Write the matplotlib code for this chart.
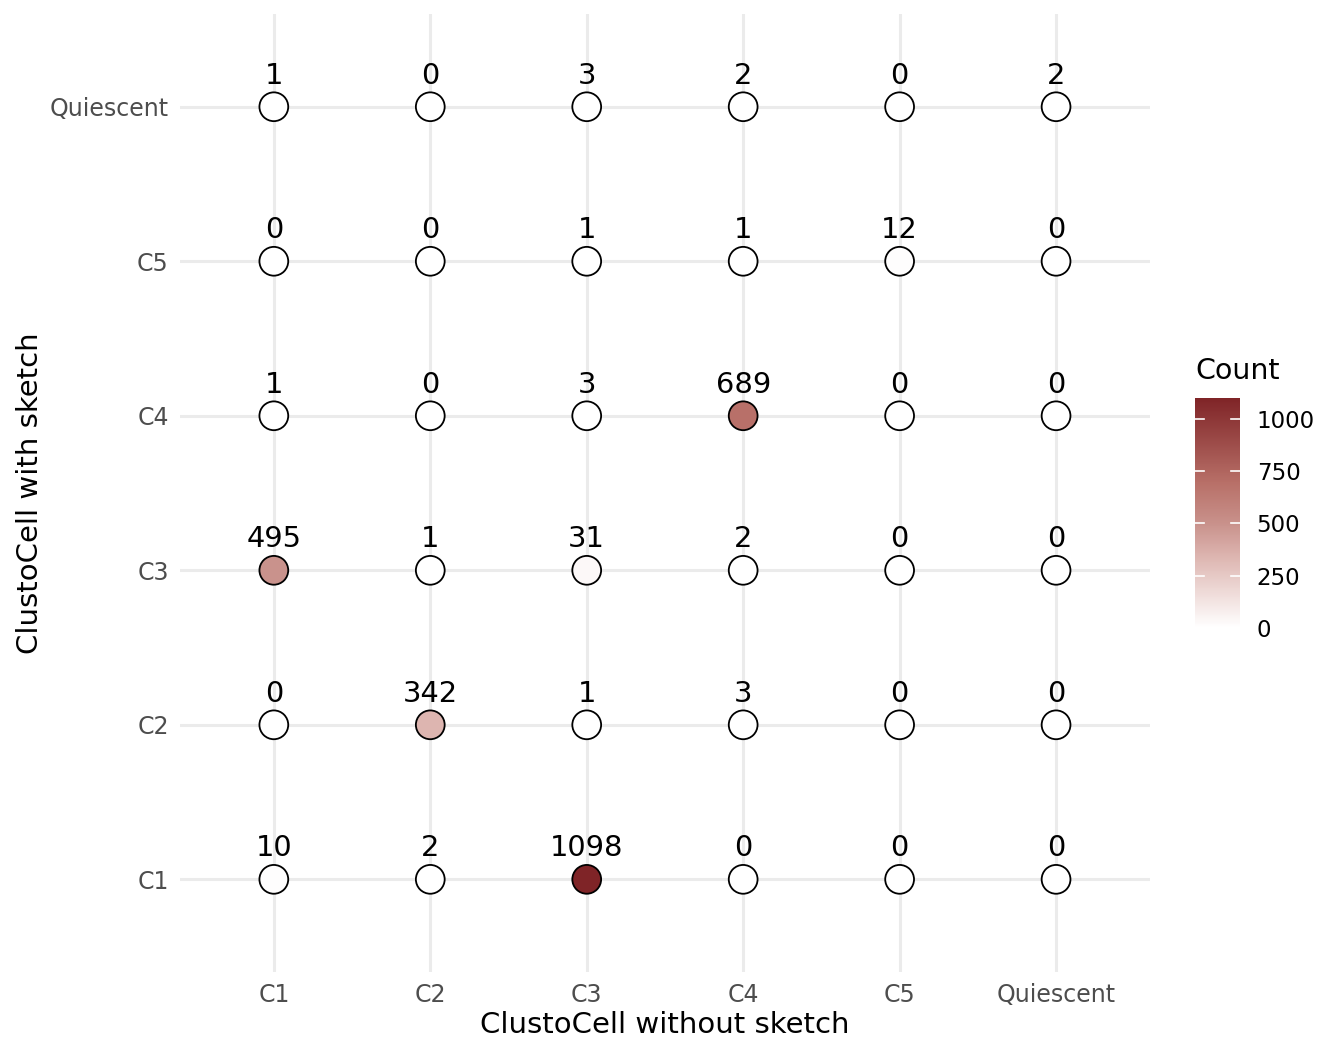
import matplotlib
matplotlib.use("Agg")
import matplotlib.pyplot as plt
import numpy as np
from matplotlib.colors import LinearSegmentedColormap, Normalize

# cluster labels, same order on both axes (bottom -> top, left -> right)
clusters = ["C1", "C2", "C3", "C4", "C5", "Quiescent"]

# counts: one list per "with sketch" cluster (row), values across "without sketch"
row_C1 = [10, 2, 1098, 0, 0, 0]
row_C2 = [0, 342, 1, 3, 0, 0]
row_C3 = [495, 1, 31, 2, 0, 0]
row_C4 = [1, 0, 3, 689, 0, 0]
row_C5 = [0, 0, 1, 1, 12, 0]
row_Q = [1, 0, 3, 2, 0, 2]

cbar_ticks = [0, 250, 500, 750, 1000]

DARK_RED = "#7F2427"
GRID = "#EBEBEB"
TICK_GREY = "#4D4D4D"

counts = np.array([row_C1, row_C2, row_C3, row_C4, row_C5, row_Q])
n = len(clusters)
xs, ys = np.meshgrid(np.arange(n), np.arange(n))
xs, ys, vals = xs.ravel(), ys.ravel(), counts.ravel()

# white -> dark red, with mid tones a bit warmer (like a Lab-space gradient)
cmap = LinearSegmentedColormap.from_list(
    "count",
    [(0.0, "white"), (0.31, "#DDB5B0"), (0.45, "#C9928C"),
     (0.63, "#B87068"), (1.0, DARK_RED)])
norm = Normalize(vmin=0, vmax=vals.max())

fig = plt.figure(figsize=(13.44, 10.56), dpi=100)
ax = fig.add_axes([0.1339, 0.0795, 0.7217, 0.9072])

for i in range(n):
    ax.axvline(i, color=GRID, linewidth=2.2, zorder=0)
    ax.axhline(i, color=GRID, linewidth=2.2, zorder=0)

sc = ax.scatter(xs, ys, c=vals, cmap=cmap, norm=norm, s=430,
                edgecolors="black", linewidths=1.3, zorder=3)

for x, y, v in zip(xs, ys, vals):
    ax.text(x, y + 0.2, str(v), ha="center", va="center", fontsize=20.8,
            color="black", zorder=4)

ax.set_xlim(-0.6, n - 1 + 0.6)
ax.set_ylim(-0.6, n - 1 + 0.6)
ax.set_xticks(range(n))
ax.set_xticklabels(clusters)
ax.set_yticks(range(n))
ax.set_yticklabels(clusters)
ax.tick_params(length=0, labelsize=17, labelcolor=TICK_GREY, pad=8)
for s in ax.spines.values():
    s.set_visible(False)
ax.set_xlabel("ClustoCell without sketch", fontsize=21, labelpad=3)
ax.set_ylabel("ClustoCell with sketch", fontsize=21, labelpad=4)

# colour bar
cax = fig.add_axes([0.8891, 0.4053, 0.0335, 0.2178])
cb = fig.colorbar(sc, cax=cax, ticks=cbar_ticks)
cb.outline.set_visible(False)
cax.tick_params(length=0, labelsize=16.5, pad=12)
for t in cbar_ticks:
    cax.plot([0, 0.2], [t, t], color="white", linewidth=1.2,
             transform=cax.get_yaxis_transform())
    cax.plot([0.8, 1.0], [t, t], color="white", linewidth=1.2,
             transform=cax.get_yaxis_transform())
cax.set_title("Count", fontsize=20.5, loc="left", pad=14)

fig.savefig("out.png", dpi=100)
